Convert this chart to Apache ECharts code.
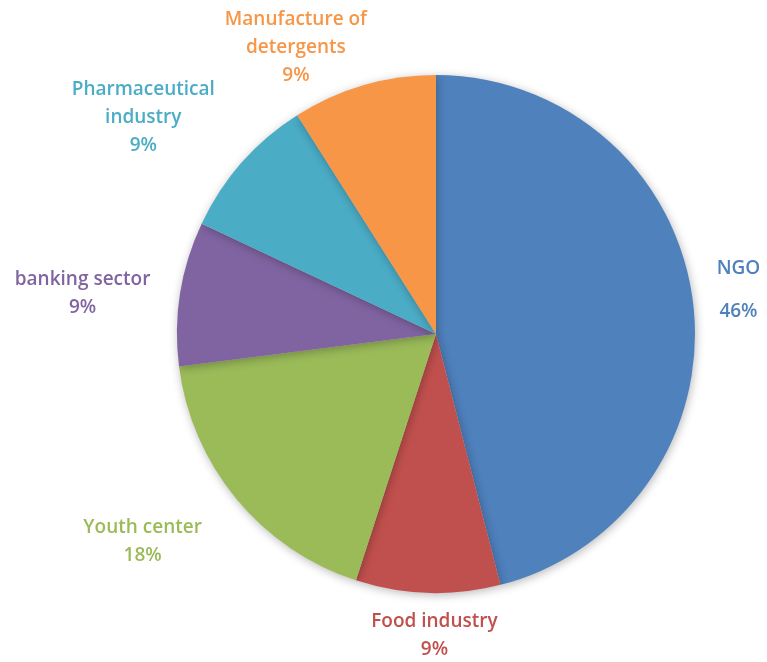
<!DOCTYPE html>
<html>
<head>
<meta charset="utf-8">
<style>
  html, body { margin: 0; padding: 0; background: #fff; }
  #chart { width: 767px; height: 662px; }
</style>
<script src="https://cdn.jsdelivr.net/npm/echarts@6/dist/echarts.min.js"></script>
</head>
<body>
<div id="chart"></div>
<script>
// Sectors, clockwise from 12 o'clock
const categories = ['NGO', 'Food industry', 'Youth center', 'banking sector', 'Pharmaceutical\nindustry', 'Manufacture of\ndetergents'];
const shares = [46, 9, 18, 9, 9, 9];
const colors = ['#4f81bd', '#c0504d', '#9bbb59', '#8064a2', '#4bacc6', '#f79646'];
// label placement: distance outside the rim, then a small nudge [x, y]
const labelGap = [19, 15, 56, 26, 53, 0];
const labelNudge = [[0, -4], [14, 0], [0, -11], [0, 9], [0, 18], [-43, 3]];
const labelLineHeight = [43, 28, 28, 28, 28, 28];

const total = shares.reduce((a, b) => a + b, 0);
function midAngle(i) {
  let before = 0;
  for (let k = 0; k < i; k++) before += shares[k];
  return (before + shares[i] / 2) / total * Math.PI * 2;
}

const chart = echarts.init(document.getElementById('chart'), null, { renderer: 'canvas' });

chart.setOption({
  backgroundColor: '#ffffff',
  animation: false,
  series: [{
    type: 'pie',
    center: [436, 334],
    radius: 259,
    startAngle: 90,
    clockwise: true,
    avoidLabelOverlap: false,
    itemStyle: {
      shadowBlur: 10,
      shadowColor: 'rgba(0,0,0,0.28)',
      shadowOffsetX: 1,
      shadowOffsetY: 2
    },
    label: {
      show: true,
      position: 'outside',
      fontFamily: '"Open Sans", sans-serif',
      fontWeight: 600,
      fontSize: 19,
      overflow: 'none',
      formatter: p => p.name + '\n' + p.value + '%'
    },
    labelLine: { show: false, length2: 0 },
    labelLayout: function (p) {
      // centre each text block just outside its sector, lines centred
      const a = midAngle(p.dataIndex);
      const w = p.labelRect.width, h = p.labelRect.height;
      const n = labelNudge[p.dataIndex];
      return {
        align: 'center',
        verticalAlign: 'middle',
        dx: Math.sin(a) * w / 2 + n[0],
        dy: -Math.cos(a) * h / 2 + n[1]
      };
    },
    data: categories.map((name, i) => ({
      name: name,
      value: shares[i],
      itemStyle: { color: colors[i] },
      label: { color: colors[i], lineHeight: labelLineHeight[i] },
      labelLine: { length: labelGap[i], length2: 0 }
    }))
  }]
});
</script>
</body>
</html>
